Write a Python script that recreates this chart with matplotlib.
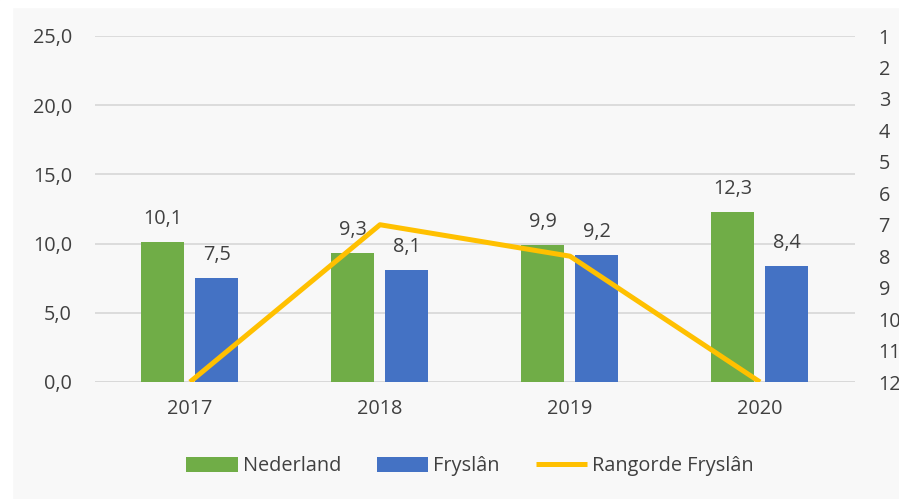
import matplotlib
matplotlib.use("Agg")
import matplotlib.pyplot as plt
import numpy as np
from matplotlib.patches import Rectangle

years = ["2017", "2018", "2019", "2020"]
nederland = [10.1, 9.3, 9.9, 12.3]
fryslan = [7.5, 8.1, 9.2, 8.4]
rangorde = [12, 7, 8, 12]
left_ticks = [0, 5, 10, 15, 20, 25]
right_ticks = list(range(1, 13))

plt.rcParams['font.family'] = ['Open Sans', 'DejaVu Sans']
txt = '#404040'
bg = '#f8f8f8'
fs = 14.3

W, H = 899, 499
fig = plt.figure(figsize=(W/100, H/100), dpi=100, facecolor=bg)
fig.patches.append(Rectangle((0, 0), 12/W, 1, transform=fig.transFigure, color='white', zorder=-1))
fig.patches.append(Rectangle((0, 1-7/H), 1, 7/H, transform=fig.transFigure, color='white', zorder=-1))

ax = fig.add_axes([95/W, 1-382/H, 760/W, 346/H])
ax.set_facecolor(bg)
x = np.arange(len(years))
bw = 0.23
b1 = ax.bar(x - 0.145, nederland, bw, color='#70ad47', zorder=3)
b2 = ax.bar(x + 0.14, fryslan, bw, color='#4472c4', zorder=3)
for rects, vals in ((b1, nederland), (b2, fryslan)):
    for r, v in zip(rects, vals):
        ax.text(r.get_x() + r.get_width()/2, v + 0.95, f"{v:.1f}".replace('.', ','),
                ha='center', va='bottom', fontsize=fs, color=txt, zorder=5)
ax.set_xlim(-0.5, 3.5)
ax.set_ylim(0, 25)
ax.set_yticks(left_ticks)
ax.set_yticklabels([f"{t:.1f}".replace('.', ',') for t in left_ticks], fontsize=fs, color=txt)
ax.set_xticks(x)
ax.set_xticklabels(years, fontsize=fs, color=txt)
ax.grid(axis='y', color='#d9d9d9', linewidth=1.3, zorder=0)
for s in ax.spines.values():
    s.set_visible(False)
ax.tick_params(axis='y', length=0, pad=16.5)
ax.tick_params(axis='x', length=0, pad=12)
ax.axhline(0, color='#d9d9d9', linewidth=1.3, zorder=2)

ax2 = ax.twinx()
line, = ax2.plot(x, rangorde, color='#ffc000', linewidth=3.6, zorder=4, solid_capstyle='butt')
ax2.set_ylim(12, 1)
ax2.set_yticks(right_ticks)
ax2.set_yticklabels([str(t) for t in right_ticks], fontsize=fs, color=txt)
ax2.tick_params(axis='y', length=0, pad=17)
for s in ax2.spines.values():
    s.set_visible(False)

handles = [b1, b2, line]
leg = fig.legend(handles, ["Nederland", "Fryslân", "Rangorde Fryslân"], loc='center',
                 bbox_to_anchor=(470/W, 1-466/H), ncol=3, frameon=False, fontsize=fs,
                 handlelength=2.6, handleheight=0.8, columnspacing=1.8, handletextpad=0.25)
for t in leg.get_texts():
    t.set_color(txt)

fig.savefig("out.png", dpi=100, facecolor=bg)
